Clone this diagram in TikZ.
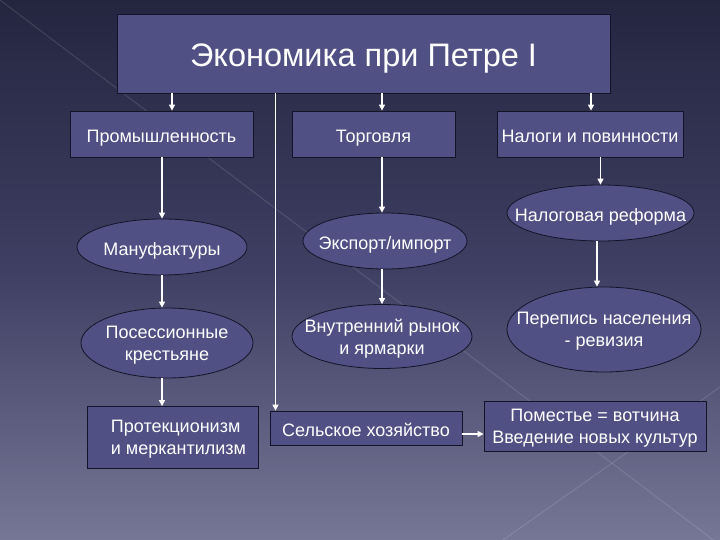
\documentclass[tikz,border=0pt]{standalone}
\usepackage{fontspec}
\setmainfont{Liberation Sans}
\usetikzlibrary{shapes.geometric,arrows.meta}
\definecolor{boxfill}{RGB}{80,80,132}
\definecolor{boxline}{RGB}{20,20,40}
\definecolor{bgtop}{RGB}{36,38,64}
\definecolor{bgmid}{RGB}{62,63,98}
\definecolor{bgbot}{RGB}{118,118,150}
\tikzset{
  base/.style={fill=boxfill, draw=boxline, line width=0.8pt, text=white, inner sep=0pt,
    font=\fontsize{18}{22}\selectfont, align=center},
  rbox/.style={base, rectangle},
  ebox/.style={base, ellipse, inner xsep=-50pt, inner ysep=-8pt},
  oneline/.style={text height=19pt, text depth=2pt},
  twoline/.style={text depth=-2pt},
  arr/.style={draw=white, line width=1.3pt, -{Triangle[width=6pt,length=6pt]}},
  bgline/.style={draw=white, opacity=0.12, line width=1pt}
}
\begin{document}
\begin{tikzpicture}[x=1pt,y=-1pt]
  \shade[top color=bgtop, bottom color=bgbot, middle color=bgmid] (0,0) rectangle (720,540);
  \useasboundingbox (0,0) rectangle (720,540);
  \draw[bgline] (0,0) -- (720,545);
  \draw[bgline] (503,540) -- (720,387);

  \node[rbox, minimum width=493, minimum height=79, font=\fontsize{32.5}{36}\selectfont, text height=29pt, text depth=2.8pt] (title) at (363.5,53.5) {Экономика при Петре I};
  \node[rbox, oneline, minimum width=183, minimum height=46] (prom) at (161.5,134) {Промышленность};
  \node[rbox, oneline, minimum width=163, minimum height=46] (torg) at (373.5,134) {Торговля};
  \node[rbox, oneline, minimum width=186, minimum height=46] (nalogi) at (590,134) {Налоги и повинности};

  \node[ebox, oneline, minimum width=170, minimum height=56] (manuf) at (162,247) {Мануфактуры};
  \node[ebox, twoline, minimum width=172, minimum height=70] (posess) at (167,343) {Посессионные\\крестьяне};
  \node[rbox, twoline, minimum width=171, minimum height=62, align=left] (prot) at (172.5,437.5) {\hspace*{12pt}Протекционизм\\\hspace*{12pt}и меркантилизм};

  \node[ebox, oneline, minimum width=164, minimum height=56] (export) at (385,241) {Экспорт/импорт};
  \node[ebox, twoline, minimum width=180, minimum height=64] (vnutr) at (382,336.5) {Внутренний рынок\\и ярмарки};
  \node[rbox, oneline, minimum width=192, minimum height=34] (selsk) at (366,428) {Сельское хозяйство};

  \node[ebox, oneline, minimum width=187, minimum height=56] (nalref) at (600.5,213) {Налоговая реформа};
  \node[ebox, twoline, minimum width=194, minimum height=85] (perepis) at (604,329.5) {Перепись населения\\- ревизия};
  \node[rbox, twoline, minimum width=222, minimum height=50] (pomest) at (595,426) {Поместье = вотчина\\Введение новых культур};

  % helper coordinates
  \path ([xshift=10.5pt]prom.north) coordinate (p1)
        ([xshift=8.5pt]torg.north) coordinate (p2)
        ([xshift=1pt]nalogi.north) coordinate (p3)
        ([xshift=-90.5pt]selsk.north) coordinate (p4)
        ([xshift=-3pt]export.north) coordinate (p5)
        ([yshift=-6pt]selsk.east) coordinate (p6)
        ([xshift=-3.5pt]nalref.south) coordinate (p7)
        ([xshift=-5pt]posess.south) coordinate (p8);

  \draw[arr] (title.south -| p1) -- (p1);
  \draw[arr] (title.south -| p2) -- (p2);
  \draw[arr] (title.south -| p3) -- (p3);
  \draw[arr] (title.south -| p4) -- (p4);

  \draw[arr] (prom.south -| manuf.north) -- (manuf.north);
  \draw[arr] (manuf.south) -- (manuf.south |- posess.north);
  \draw[arr] (manuf.south |- p8) -- (manuf.south |- prot.north);

  \draw[arr] (torg.south -| p5) -- (p5);
  \draw[arr] (export.south -| p5) -- (p5 |- vnutr.north);

  \draw[arr] (nalogi.south -| nalref.north) -- (nalref.north);
  \draw[arr] (p7) -- (p7 |- perepis.north);

  \draw[arr] (p6) -- (p6 -| pomest.west);
\end{tikzpicture}
\end{document}
